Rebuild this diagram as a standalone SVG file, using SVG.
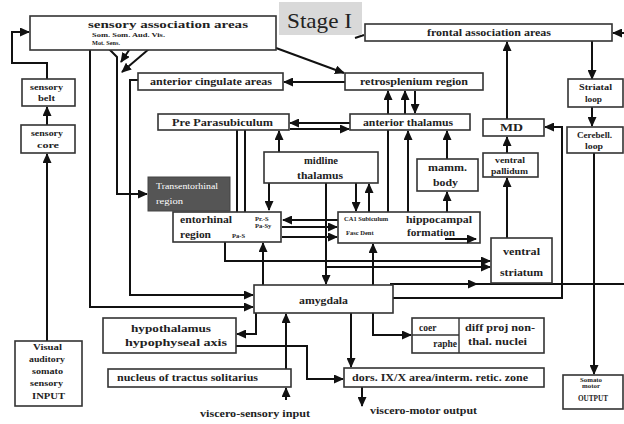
<svg xmlns="http://www.w3.org/2000/svg" width="624" height="424" viewBox="0 0 624 424">
<defs>
<marker id="ah" markerUnits="userSpaceOnUse" markerWidth="10" markerHeight="9" refX="9" refY="4.5" orient="auto"><path d="M0,0 L10,4.5 L0,9 z" fill="#111"/></marker>
<style>
.bx{fill:#fff;stroke:#333;stroke-width:1.6}
.ln{fill:none;stroke:#111;stroke-width:2}
.ar{fill:none;stroke:#111;stroke-width:2;marker-end:url(#ah)}
text{font-family:"Liberation Serif",serif;font-weight:bold;fill:#222}
.t{font-size:11px}
.s{font-size:8px}
.xs{font-size:6.5px}
.w{font-weight:normal;fill:#fff;font-size:7.5px}
.c{font-size:9.5px}
</style>
</defs>
<rect width="624" height="424" fill="#fff"/>
<g id="connectors">
<path class="ar" d="M47,341 V154"/>
<path class="ar" d="M47,125 V107"/>
<path class="ar" d="M47,79 V63 H12 V32 H29"/>
<path class="ar" d="M90,50 V307 H253"/>
<path class="ar" d="M138,80 H130 V295 H253"/>
<path class="ar" d="M108,48 L117,57 V194 H147"/>
<path class="ar" d="M138,37 L121,62"/>
<path class="ar" d="M163,37 L122,72"/>
<path class="ar" d="M276,48 L344,73"/>
<path class="ar" d="M345,82 H284"/>
<path class="ln" d="M355,38 L364,35"/>
<path class="ar" d="M624,33 H613"/>
<path class="ar" d="M592,41 V79"/>
<path class="ar" d="M592,107 V126"/>
<path class="ar" d="M594,153 V374"/>
<path class="ar" d="M507,119 V42"/>
<path class="ar" d="M507,153 V137"/>
<path class="ar" d="M507,238 V178"/>
<path class="ar" d="M393,298 H562 V127 H545"/>
<path class="ln" d="M470,284 H624"/>
<path class="ar" d="M390,284 H477"/>
<path class="ar" d="M225,242 V261 H490"/>
<path class="ar" d="M326,267 H490"/>
<path class="ar" d="M350,123 H290"/>
<path class="ar" d="M290,129 H349"/>
<path class="ar" d="M388,212 V91"/>
<path class="ar" d="M405,114 V91"/>
<path class="ar" d="M415,91 V113"/>
<path class="ar" d="M408,212 V131"/>
<path class="ar" d="M447,159 V131"/>
<path class="ar" d="M447,212 V192"/>
<path class="ar" d="M279,152 V131"/>
<path class="ar" d="M269,183 V210"/>
<path class="ar" d="M326,183 V284"/>
<path class="ar" d="M356,183 V211"/>
<path class="ar" d="M369,212 V184"/>
<path class="ar" d="M237,129 V226"/>
<path class="ar" d="M245,129 V237"/>
<path class="ar" d="M338,220 H283"/>
<path class="ar" d="M282,227 H337"/>
<path class="ar" d="M282,237 H337"/>
<path class="ar" d="M263,285 V243"/>
<path class="ar" d="M373,285 V244"/>
<path class="ar" d="M256,313 V334 H237"/>
<path class="ar" d="M236,346 H307 V379 H343"/>
<path class="ar" d="M286,369 V314"/>
<path class="ar" d="M286,400 V388"/>
<path class="ar" d="M351,313 V367"/>
<path class="ar" d="M373,313 V335 H411"/>
<path class="ar" d="M362,387 V406"/>
</g>
<g id="stage"><rect x="279" y="2" width="83" height="33" fill="#d9d9d9"/><text x="287" y="28" style="font-weight:normal;font-size:22px" textLength="65" lengthAdjust="spacingAndGlyphs">Stage I</text></g>
<g id="sensory-assoc"><rect class="bx" x="30" y="16" width="246" height="34"/><text class="t" x="88" y="28" textLength="160" lengthAdjust="spacingAndGlyphs">sensory association areas</text><text class="xs" x="92" y="37" textLength="73" lengthAdjust="spacingAndGlyphs">Som.  Som. Aud. Vis.</text><text class="xs" x="92" y="45" textLength="28" lengthAdjust="spacingAndGlyphs">Mot.  Sens.</text></g>
<g id="frontal"><rect class="bx" x="365" y="24" width="247" height="17"/><text class="t" x="427" y="36" textLength="124" lengthAdjust="spacingAndGlyphs">frontal association areas</text></g>
<g id="sensory-belt"><rect class="bx" x="22" y="79" width="53" height="27"/><text class="s" x="30" y="90" textLength="33" lengthAdjust="spacingAndGlyphs">sensory</text><text class="s" x="38" y="101" textLength="17" lengthAdjust="spacingAndGlyphs">belt</text></g>
<g id="sensory-core"><rect class="bx" x="21" y="125" width="54" height="28"/><text class="s" x="31" y="136" textLength="32" lengthAdjust="spacingAndGlyphs">sensory</text><text class="s" x="37" y="148" textLength="22" lengthAdjust="spacingAndGlyphs">core</text></g>
<g id="input"><rect class="bx" x="15" y="341" width="67" height="65"/><text class="s" x="33" y="350" textLength="29" lengthAdjust="spacingAndGlyphs">Visual</text><text class="s" x="29" y="362" textLength="36" lengthAdjust="spacingAndGlyphs">auditory</text><text class="s" x="32" y="374" textLength="31" lengthAdjust="spacingAndGlyphs">somato</text><text class="s" x="30" y="386" textLength="33" lengthAdjust="spacingAndGlyphs">sensory</text><text class="s" x="32" y="399" textLength="33" lengthAdjust="spacingAndGlyphs">INPUT</text></g>
<g id="ant-cingulate"><rect class="bx" x="138" y="73" width="145" height="17"/><text class="t" x="150" y="85" textLength="122" lengthAdjust="spacingAndGlyphs">anterior cingulate areas</text></g>
<g id="retrosplenium"><rect class="bx" x="345" y="73" width="138" height="17"/><text class="t" x="360" y="85" textLength="108" lengthAdjust="spacingAndGlyphs">retrosplenium region</text></g>
<g id="pre-para"><rect class="bx" x="158" y="114" width="131" height="16"/><text class="t" x="172" y="126" textLength="101" lengthAdjust="spacingAndGlyphs">Pre  Parasubiculum</text></g>
<g id="ant-thal"><rect class="bx" x="350" y="114" width="120" height="16"/><text class="t" x="363" y="126" textLength="90" lengthAdjust="spacingAndGlyphs">anterior thalamus</text></g>
<g id="md"><rect class="bx" x="483" y="119" width="61" height="17"/><text class="t" x="500" y="131" textLength="23" lengthAdjust="spacingAndGlyphs">MD</text></g>
<g id="striatal"><rect class="bx" x="568" y="79" width="55" height="28"/><text class="s" x="579" y="90" textLength="33" lengthAdjust="spacingAndGlyphs">Striatal</text><text class="s" x="585" y="102" textLength="17" lengthAdjust="spacingAndGlyphs">loop</text></g>
<g id="cerebell"><rect class="bx" x="567" y="127" width="56" height="26"/><text class="s" x="577" y="138" textLength="35" lengthAdjust="spacingAndGlyphs">Cerebell.</text><text class="s" x="585" y="149" textLength="18" lengthAdjust="spacingAndGlyphs">loop</text></g>
<g id="midline"><rect class="bx" x="264" y="152" width="114" height="31"/><text class="t" x="304" y="164" textLength="34" lengthAdjust="spacingAndGlyphs">midline</text><text class="t" x="297" y="179" textLength="46" lengthAdjust="spacingAndGlyphs">thalamus</text></g>
<g id="mamm"><rect class="bx" x="417" y="159" width="61" height="32"/><text class="t" x="428" y="171" textLength="39" lengthAdjust="spacingAndGlyphs">mamm.</text><text class="t" x="433" y="186" textLength="25" lengthAdjust="spacingAndGlyphs">body</text></g>
<g id="pallidum"><rect class="bx" x="483" y="153" width="55" height="24"/><text class="s" x="495" y="163" textLength="30" lengthAdjust="spacingAndGlyphs">ventral</text><text class="s" x="491" y="174" textLength="37" lengthAdjust="spacingAndGlyphs">pallidum</text></g>
<g id="transentorhinal"><rect x="148" y="177" width="82" height="34" fill="#555" stroke="#444"/><text class="w" x="156" y="189" textLength="62" lengthAdjust="spacingAndGlyphs">Transentorhinal</text><text class="w" x="156" y="204" textLength="27" lengthAdjust="spacingAndGlyphs">region</text></g>
<g id="entorhinal"><rect class="bx" x="173" y="212" width="108" height="30"/><text class="t" x="180" y="223" textLength="52" lengthAdjust="spacingAndGlyphs">entorhinal</text><text class="t" x="180" y="238" textLength="31" lengthAdjust="spacingAndGlyphs">region</text><text class="xs" x="255" y="221">Pr.-S</text><text class="xs" x="255" y="228">Pa-Sy</text><text class="xs" x="232" y="238">Pa-S</text></g>
<g id="hippocampal"><rect class="bx" x="338" y="212" width="142" height="31"/><text class="xs" x="344" y="221">CA1 Subiculum</text><text class="xs" x="346" y="235">Fasc Dent</text><text class="t" x="406" y="223" textLength="66" lengthAdjust="spacingAndGlyphs">hippocampal</text><text class="t" x="407" y="236" textLength="48" lengthAdjust="spacingAndGlyphs">formation</text></g>
<path class="ar" d="M445,239 H476"/>
<g id="ventral-striatum"><rect class="bx" x="491" y="238" width="61" height="45"/><text class="t" x="503" y="255" textLength="37" lengthAdjust="spacingAndGlyphs">ventral</text><text class="t" x="500" y="276" textLength="43" lengthAdjust="spacingAndGlyphs">striatum</text></g>
<g id="amygdala"><rect class="bx" x="254" y="285" width="139" height="28"/><text class="t" x="299" y="304" textLength="49" lengthAdjust="spacingAndGlyphs">amygdala</text></g>
<g id="hypothalamus"><rect class="bx" x="103" y="318" width="133" height="35"/><text class="t" x="131" y="332" textLength="80" lengthAdjust="spacingAndGlyphs">hypothalamus</text><text class="t" x="125" y="346" textLength="102" lengthAdjust="spacingAndGlyphs">hypophyseal axis</text></g>
<g id="nts"><rect class="bx" x="108" y="369" width="183" height="18"/><text class="t" x="117" y="381" textLength="141" lengthAdjust="spacingAndGlyphs">nucleus of tractus solitarius</text></g>
<g id="coer-raphe"><rect class="bx" x="412" y="318" width="132" height="35"/><path d="M459,318 V353 M412,335 H459" stroke="#333" stroke-width="1.4" fill="none"/><text class="c" x="419" y="331">coer</text><text class="c" x="457" y="347" text-anchor="end">raphe</text><text class="t" x="465" y="331" textLength="70" lengthAdjust="spacingAndGlyphs">diff proj non-</text><text class="t" x="468" y="345" textLength="59" lengthAdjust="spacingAndGlyphs">thal. nuclei</text></g>
<g id="dors"><rect class="bx" x="344" y="368" width="200" height="19"/><text class="t" x="352" y="381" textLength="176" lengthAdjust="spacingAndGlyphs">dors. IX/X area/interm. retic. zone</text></g>
<g id="output"><rect class="bx" x="563" y="375" width="60" height="34"/><text class="xs" x="580" y="382" textLength="22" lengthAdjust="spacingAndGlyphs">Somato</text><text class="xs" x="582" y="388" textLength="18" lengthAdjust="spacingAndGlyphs">motor</text><text class="s" x="578" y="401" textLength="30" lengthAdjust="spacingAndGlyphs">OUTPUT</text></g>
<g id="viscero-in"><text class="t" x="200" y="417" textLength="110" lengthAdjust="spacingAndGlyphs">viscero-sensory input</text></g>
<g id="viscero-out"><text class="t" x="370" y="414" textLength="107" lengthAdjust="spacingAndGlyphs">viscero-motor output</text></g>
</svg>
